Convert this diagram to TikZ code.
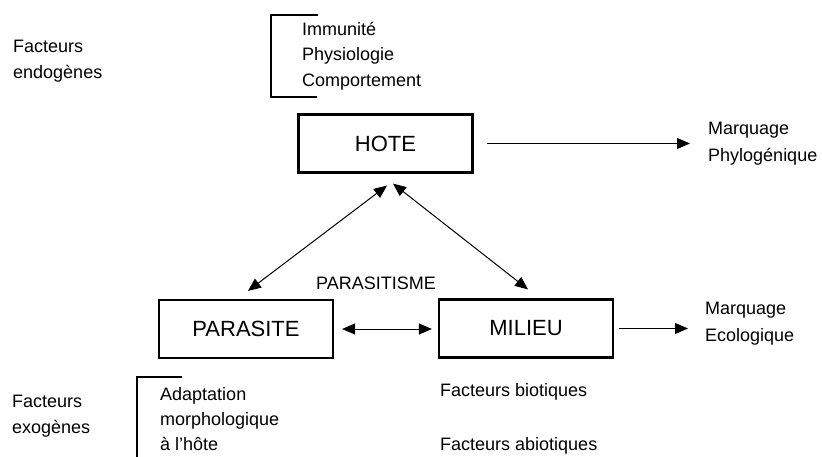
\documentclass[tikz,border=0pt]{standalone}
\usepackage{fontspec}
\setmainfont{Liberation Sans}
\usetikzlibrary{arrows.meta,calc}
\begin{document}
\begin{tikzpicture}[x=1pt,y=-1pt,
  box/.style={draw,line width=2.2pt,minimum width=174pt,minimum height=58pt,inner sep=0pt,font=\fontsize{22}{26}\selectfont},
  lbl/.style={anchor=west,inner sep=0pt,align=left,font=\fontsize{18}{26}\selectfont},
  arr/.style={line width=1pt,-{Triangle[length=13pt,width=11pt]}},
  darr/.style={line width=1pt,{Triangle[length=13pt,width=11pt]}-{Triangle[length=13pt,width=11pt]}},
  brk/.style={line width=1.6pt}]
\useasboundingbox (0,0) rectangle (822,457);
% boxes
\node[box] (hote) at (385.5,143.5) {HOTE};
\node[box] (parasite) at (246,329) {PARASITE};
\node[box] (milieu) at (526,328.5) {MILIEU};
% side texts
\node[lbl] (endo) at (13,61) {Facteurs\\endogènes};
\node[lbl] (exo) at (12,416) {Facteurs\\exogènes};
\node[lbl,font=\fontsize{18}{25.5}\selectfont] (hotefac) at (302,56) {Immunité\\Physiologie\\Comportement};
\node[lbl,font=\fontsize{18}{25}\selectfont] (parfac) at (160,419) {Adaptation\\morphologique\\à l'hôte};
\node[lbl] (bio) at (440,392) {Facteurs biotiques};
\node[lbl] (abio) at (440,446) {Facteurs abiotiques};
\node[lbl,font=\fontsize{18}{27}\selectfont] (phylo) at (708,144) {Marquage\\Phylogénique};
\node[lbl,font=\fontsize{18}{27}\selectfont] (eco) at (705,323.5) {Marquage\\Ecologique};
\node[inner sep=0pt,font=\fontsize{18}{22}\selectfont] (parasitisme) at (376,283) {PARASITISME};
% brackets
\coordinate (b1a) at (318,15);
\coordinate (b1b) at (271,15);
\coordinate (b1c) at (271,97);
\coordinate (b1d) at (317,97);
\draw[brk] (b1a) -- (b1b) -- (b1c) -- (b1d);
\coordinate (b2a) at (182,377);
\coordinate (b2b) at (137,377);
\coordinate (b2c) at (137,457);
\draw[brk] (b2a) -- (b2b) -- (b2c);
% connectors
\draw[arr,shorten <=13pt,shorten >=18pt] (hote.east) -- (hote.east -| phylo.west);
\draw[arr,shorten <=5pt,shorten >=17pt] (milieu.east) -- (milieu.east -| eco.west);
\draw[darr,shorten <=8pt,shorten >=6pt] (parasite.east) -- (parasite.east -| milieu.west);
\draw[darr] ($(hote.south)+(1.5,12)$) -- ($(parasite.north)+(2,-8)$);
\draw[darr] ($(hote.south)+(7.5,10)$) -- ($(milieu.north)+(2,-9)$);
\end{tikzpicture}
\end{document}
